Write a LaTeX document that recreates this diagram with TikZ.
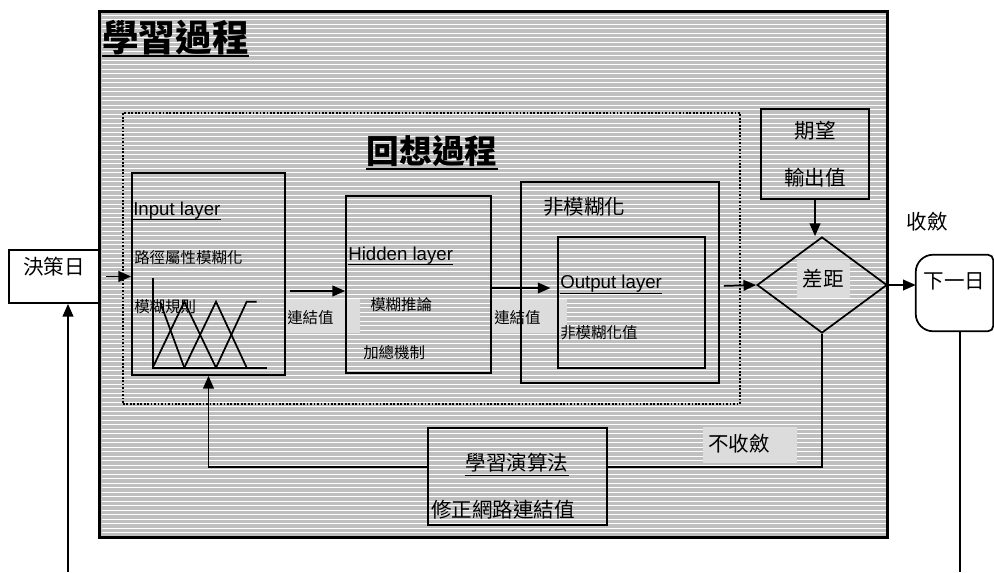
\documentclass[tikz,border=0pt]{standalone}
\usepackage{fontspec}
\setmainfont{Liberation Sans}
\newfontfamily\twfont{Noto Sans CJK TC}
\usetikzlibrary{shapes.geometric}
\usetikzlibrary{arrows.meta}
\definecolor{hatchgray}{RGB}{191,191,191}
\definecolor{tagbg}{RGB}{220,220,220}
\newcommand\twn{\twfont\fontsize{15.4}{18.5}\selectfont}
\newcommand\tws{\twfont\fontsize{11.6}{14}\selectfont}
\newcommand\latn{\fontsize{14}{16}\selectfont}
\tikzstyle{box}=[draw, line width=1.3pt, inner sep=0pt]
\tikzstyle{txt}=[inner sep=0pt, anchor=west]
\tikzstyle{tag}=[fill=tagbg, inner sep=0pt]
\tikzstyle{arr}=[line width=1.3pt, -{Triangle[length=9.5pt,width=8pt]}]
\tikzstyle{ul}=[line width=0.8pt]

\begin{document}
\begin{tikzpicture}[x=0.75pt, y=-0.75pt]
        \useasboundingbox (0,0) rectangle (994,572);
        % learning panel
        \node[box, fill=hatchgray, minimum width=590.25pt, minimum height=393.75pt] (learn) at (493.5,274.5) {};
        \foreach \yy in {15,19.5,...,535}
            \draw[white, line width=0.75pt] (101.5,\yy) -- (885.5,\yy);
        \draw[line width=1.3pt] (learn.north west) rectangle (learn.south east);
        \node[txt, font=\twfont\bfseries\fontsize{27.5}{30}\selectfont] (title) at (102,38) {學習過程};
        \draw[line width=1.5pt] ([yshift=-3pt]title.base west) -- ([yshift=-3pt]title.base east);
        % recall part
        \node[draw, line width=1.3pt, dash pattern=on 1.3pt off 1.3pt, inner sep=0pt, minimum width=462.75pt, minimum height=218.25pt] (recall) at (431.5,258.5) {};
        \node[inner sep=0pt, font=\twfont\bfseries\fontsize{24.5}{28}\selectfont] (recallt) at (432,151) {回想過程};
        \draw[line width=1.5pt] ([yshift=-4pt]recallt.base west) -- ([yshift=-4pt]recallt.base east);
        \node[tag, minimum width=56.25pt, minimum height=25.5pt] (tag1) at (322.5,316) {};
        \node[tag, minimum width=56.25pt, minimum height=25.5pt] (tag2) at (529,316) {};
        \node[txt, font=\tws] (w1) at (287,318) {連結值};
        \node[txt, font=\tws] (w2) at (494,318) {連結值};
        % input layer
        \node[box, minimum width=114.75pt, minimum height=151.5pt] (inp) at (208.5,274) {};
        \node[txt, font=\latn, anchor=base west] (inpt) at (133,215) {Input layer};
        \draw[ul] ([yshift=-3.5pt]inpt.base west) -- ([yshift=-3.5pt]inpt.base east);
        \node[txt, font=\tws] (fuzz) at (134,258) {路徑屬性模糊化};
        \draw[line width=1.3pt] (152.7,278) -- (152.7,367.7) -- (266.7,367.7);
        \draw[line width=1.3pt] (160,301.7) -- (184.3,367.7);
        \draw[line width=1.3pt] (152.7,367.7) -- (184.3,301.7) -- (216,367.7);
        \draw[line width=1.3pt] (184.3,367.7) -- (216,301.7) -- (246.7,367.7);
        \draw[line width=1.3pt] (216,367.7) -- (246.7,301.7) -- (256.7,301.7);
        \node[txt, font=\tws] (rule) at (134,307) {模糊規則};
        % hidden layer
        \node[box, minimum width=108.75pt, minimum height=132.75pt] (hid) at (418.5,284.5) {};
        \node[txt, font=\latn, anchor=base west] (hidt) at (348,260) {Hidden layer};
        \draw[ul] ([yshift=-3.5pt]hidt.base west) -- ([yshift=-3.5pt]hidt.base east);
        \node[txt, font=\tws] (infer) at (370,305) {模糊推論};
        \node[txt, font=\tws] (aggr) at (363,353) {加總機制};
        % output layer
        \node[box, minimum width=148.5pt, minimum height=150.75pt] (defz) at (620,282.5) {};
        \node[txt, font=\twn] (defzt) at (543,207) {非模糊化};
        \node[box, minimum width=110.25pt, minimum height=98.25pt] (outl) at (631.5,302.5) {};
        \node[txt, font=\latn, anchor=base west] (outt) at (560,288.5) {Output layer};
        \draw[ul] ([yshift=-3.5pt]outt.base west) -- ([yshift=-3.5pt]outt.base east);
        \node[txt, font=\tws] (crisp) at (560,333) {非模糊化值};
        % target and difference
        \node[box, minimum width=81pt, minimum height=67.5pt, align=center, font=\twn] (exp) at (815,154) {期望\\[17pt]輸出值};
        \node[box, diamond, minimum width=97.5pt, minimum height=72pt] (diff) at (822,285) {};
        \node[tag, minimum width=39.75pt, minimum height=28.5pt, font=\twn] (difft) at (823.5,279) {差距};
        \node[inner sep=0pt, font=\twn] (conv) at (927.5,222) {收斂};
        \node[tag, minimum width=70.5pt, minimum height=27pt] (tag3) at (750,445) {};
        \node[txt, font=\twn] (noconv) at (708,444) {不收斂};
        % learning algorithm
        \node[box, minimum width=134.25pt, minimum height=72.75pt] (alg) at (517.5,476.5) {};
        \node[inner sep=0pt, font=\twn] (algt) at (517,463) {學習演算法};
        \draw[ul] ([yshift=-3.5pt]algt.base west) -- ([yshift=-3.5pt]algt.base east);
        \node[txt, font=\twn] (fix) at (431,510) {修正網路連結值};
        % outside
        \node[box, fill=white, minimum width=67.5pt, minimum height=39.75pt, font=\twn, text depth=16pt] (dec) at (54,276.5) {決策日};
        \node[inner sep=0pt, minimum width=57.75pt, minimum height=57pt, font=\twn, text depth=19pt] (nxt) at (954.5,293) {下一日};
        \draw[line width=1.3pt] (nxt.north) [rounded corners=4pt] -- (nxt.north east) -- (nxt.south east) -- (nxt.south) [rounded corners=13pt] -- (nxt.south west) -- (nxt.north west) -- (nxt.north);
        \coordinate (lbot) at (68,572);
        \coordinate (rbot) at (960,572);
        % connectors
        \draw[arr, shorten <=4.5pt] (dec.east) -- (inp.west |- dec.east);
        \draw[arr, shorten <=3pt] (inp.east |- 0,291) -- (hid.west |- 0,291);
        \draw[arr, shorten >=5pt] (hid.east |- 0,288) -- (outl.west |- 0,288);
        \draw[arr, shorten <=3pt] (defz.east |- 0,286) -- (diff.west);
        \draw[arr] (exp.south) -- (exp.south |- diff.north);
        \draw[arr] (diff.east) -- (nxt.west |- diff.east);
        \draw[line width=1.3pt] (diff.south) |- (alg.east |- 0,467);
        \draw[arr] (alg.west |- 0,467) -| (inp.south);
        \draw[arr] (lbot) -- (lbot |- dec.south);
        \draw[line width=1.3pt] (rbot) -- (rbot |- nxt.south);
    \end{tikzpicture}
\end{document}
